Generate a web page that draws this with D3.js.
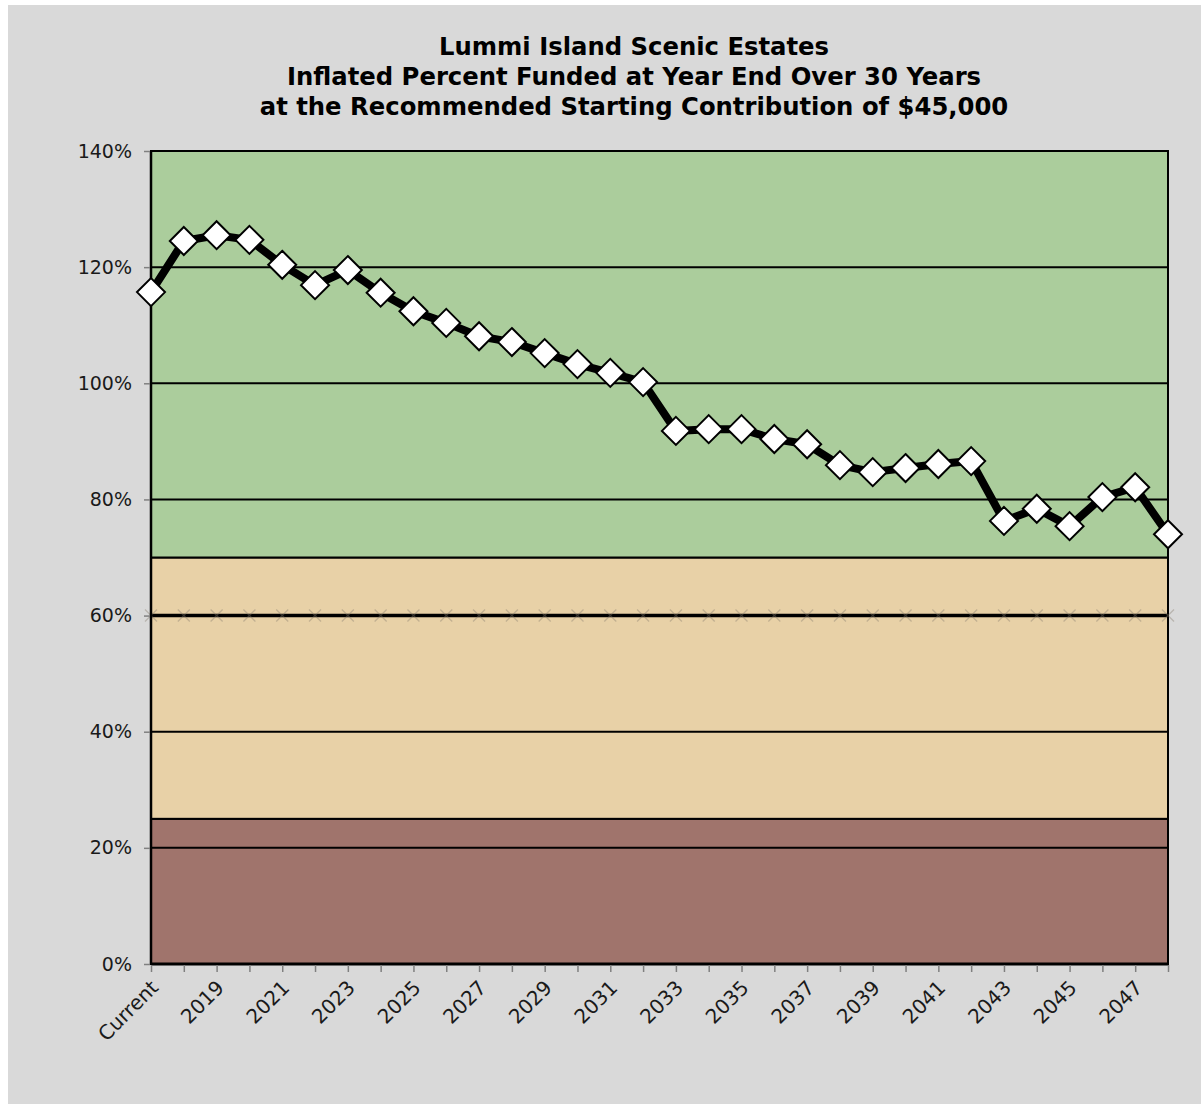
<!DOCTYPE html>
<html>
<head>
<meta charset="utf-8">
<script src="https://cdn.jsdelivr.net/npm/d3@7"></script>
<style>
  html, body { margin: 0; padding: 0; background: #ffffff; }
  svg { display: block; }
</style>
</head>
<body>
<div id="chart"></div>
<script>
// chart data
const titleLines = [
  'Lummi Island Scenic Estates',
  'Inflated Percent Funded at Year End Over 30 Years',
  'at the Recommended Starting Contribution of $45,000'
];
const years = ['Current', '2018', '2019', '2020', '2021', '2022', '2023', '2024', '2025', '2026',
  '2027', '2028', '2029', '2030', '2031', '2032', '2033', '2034', '2035', '2036', '2037',
  '2038', '2039', '2040', '2041', '2042', '2043', '2044', '2045', '2046', '2047', '2048'];
const percentFunded = [115.7, 124.5, 125.5, 124.7, 120.4, 116.9, 119.5, 115.6, 112.4, 110.4,
  108.1, 107.1, 105.2, 103.3, 101.8, 100.2, 91.8, 92.1, 92.1, 90.4, 89.5,
  85.9, 84.7, 85.4, 86.1, 86.6, 76.3, 78.4, 75.4, 80.4, 82.1, 74.0];
const yTicks = [0, 20, 40, 60, 80, 100, 120, 140];
const zones = [
  { from: 0, to: 25, color: '#a0746c' },
  { from: 25, to: 70, color: '#e8d1a7' },
  { from: 70, to: 140, color: '#abcd9c' }
];
const markerLine = 60;

const W = 1201;
const H = 1104;
const plotLeft = 151;
const plotRight = 1168;
const plotTop = 151;
const plotBottom = 964;
const font = '"DejaVu Sans", sans-serif';

const svg = d3.select('#chart').append('svg')
  .attr('width', W)
  .attr('height', H);

// panel
svg.append('rect')
  .attr('x', 8)
  .attr('y', 5)
  .attr('width', W - 8)
  .attr('height', H - 5)
  .attr('fill', '#d9d9d9');

const x = d3.scalePoint().domain(years).range([plotLeft, plotRight]);
const y = d3.scaleLinear().domain([0, 140]).range([plotBottom, plotTop]);

// title
svg.append('text')
  .attr('x', 634)
  .attr('y', 55)
  .attr('text-anchor', 'middle')
  .attr('font-family', font)
  .attr('font-weight', 'bold')
  .attr('font-size', 24.3)
  .attr('fill', '#000')
  .selectAll('tspan')
  .data(titleLines)
  .enter().append('tspan')
  .attr('x', 634)
  .attr('dy', (d, i) => i === 0 ? 0 : 30)
  .text(d => d);

// zones
const g = svg.append('g');
g.selectAll('rect.zone')
  .data(zones)
  .enter().append('rect')
  .attr('class', 'zone')
  .attr('x', plotLeft)
  .attr('width', plotRight - plotLeft)
  .attr('y', d => y(d.to))
  .attr('height', d => y(d.from) - y(d.to))
  .attr('fill', d => d.color)
  .attr('stroke', '#000')
  .attr('stroke-width', 2);

// gridlines
g.selectAll('line.grid')
  .data(yTicks.filter(d => d > 0 && d < 140))
  .enter().append('line')
  .attr('class', 'grid')
  .attr('x1', plotLeft)
  .attr('x2', plotRight)
  .attr('y1', d => y(d))
  .attr('y2', d => y(d))
  .attr('stroke', '#000')
  .attr('stroke-width', d => d === markerLine ? 3.5 : 2);

// faint x markers along 60% line
const xm = 6;
g.selectAll('path.xmark')
  .data(years)
  .enter().append('path')
  .attr('class', 'xmark')
  .attr('d', d => {
    const cx = x(d), cy = y(markerLine);
    return `M${cx - xm},${cy - xm}L${cx + xm},${cy + xm}M${cx - xm},${cy + xm}L${cx + xm},${cy - xm}`;
  })
  .attr('stroke', '#8a8070')
  .attr('stroke-opacity', 0.4)
  .attr('stroke-width', 1.3)
  .attr('fill', 'none');

// top border
g.append('line')
  .attr('x1', plotLeft).attr('x2', plotRight)
  .attr('y1', plotTop).attr('y2', plotTop)
  .attr('stroke', '#000').attr('stroke-width', 2);

// axes lines
g.append('line')
  .attr('x1', plotLeft).attr('x2', plotLeft)
  .attr('y1', plotTop).attr('y2', plotBottom)
  .attr('stroke', '#000').attr('stroke-width', 2.5);
g.append('line')
  .attr('x1', plotLeft).attr('x2', plotRight)
  .attr('y1', plotBottom).attr('y2', plotBottom)
  .attr('stroke', '#000').attr('stroke-width', 3);

// y axis
const yAxis = svg.append('g')
  .attr('transform', `translate(${plotLeft - 1},0)`)
  .call(d3.axisLeft(y).tickValues(yTicks).tickFormat(d => d + '%').tickSize(6).tickPadding(12));
yAxis.select('.domain').remove();
yAxis.selectAll('line').attr('stroke', '#808080').attr('stroke-width', 1.5);
yAxis.selectAll('text')
  .attr('font-family', font)
  .attr('font-size', 19)
  .attr('fill', '#1a1a1a');

// x axis
const xAxis = svg.append('g')
  .attr('transform', `translate(0,${plotBottom + 1})`)
  .call(d3.axisBottom(x).tickSize(7).tickFormat((d, i) => i % 2 === 0 ? d : ''));
xAxis.select('.domain').remove();
xAxis.selectAll('line').attr('stroke', '#808080').attr('stroke-width', 1.5);
xAxis.selectAll('text')
  .attr('font-family', font)
  .attr('font-size', 20)
  .attr('fill', '#1a1a1a')
  .attr('text-anchor', 'end')
  .attr('transform', 'translate(-4,12) rotate(-45)')
  .attr('dy', '0.35em');

// funded line
const line = d3.line()
  .x((d, i) => x(years[i]))
  .y(d => y(d));

svg.append('path')
  .datum(percentFunded)
  .attr('d', line)
  .attr('fill', 'none')
  .attr('stroke', '#000')
  .attr('stroke-width', 8)
  .attr('stroke-linejoin', 'round');

// diamonds
const r = 14;
svg.selectAll('path.diamond')
  .data(percentFunded)
  .enter().append('path')
  .attr('class', 'diamond')
  .attr('d', (d, i) => {
    const cx = x(years[i]), cy = y(d);
    return `M${cx},${cy - r}L${cx + r},${cy}L${cx},${cy + r}L${cx - r},${cy}Z`;
  })
  .attr('fill', '#fff')
  .attr('stroke', '#000')
  .attr('stroke-width', 2);
</script>
</body>
</html>
